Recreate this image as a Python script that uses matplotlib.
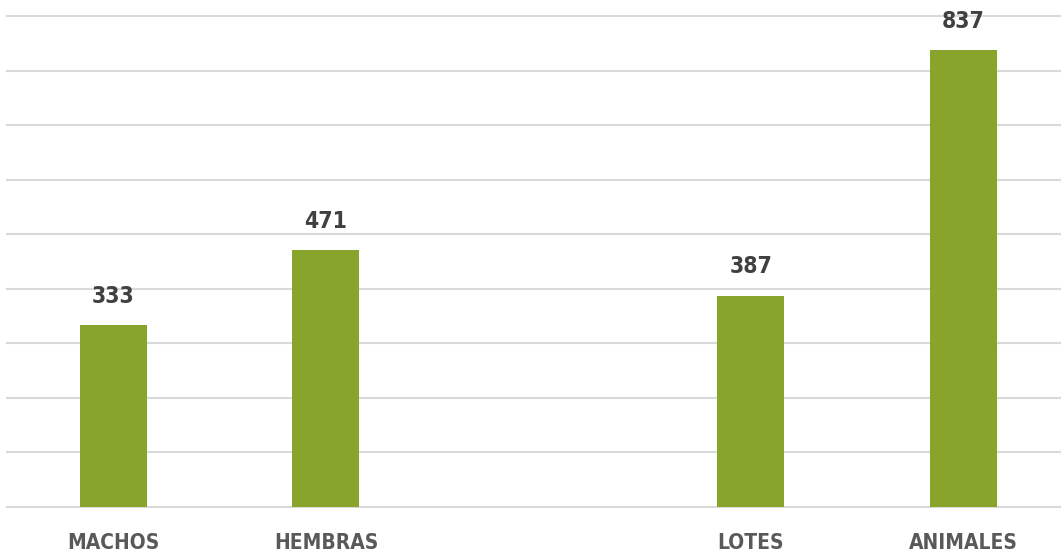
import numpy as np
import matplotlib.pyplot as plt

categories = ["MACHOS", "HEMBRAS", "", "LOTES", "ANIMALES"]
values = [333, 471, np.nan, 387, 837]
labels = ["333", "471", "", "387", "837"]

bar_color = "#88A42A"
text_color = "#595959"

fig = plt.figure(figsize=(10.61, 5.57), dpi=100)
ax = fig.add_axes([7 / 1061, 50 / 557, 1054 / 1061, 491 / 557])

x = np.arange(len(categories))
vals = np.array(values, dtype=float)
mask = ~np.isnan(vals)
ax.bar(x[mask], vals[mask], width=0.315, color=bar_color, zorder=3)

for xi, v, lab in zip(x, vals, labels):
    if lab:
        ax.text(xi, v + 32, lab, ha="center", va="bottom", fontsize=16.5,
                fontweight="bold", fontstretch="condensed", family="DejaVu Sans",
                color="#404040")

ax.set_xlim(-0.501, 4.459)
ax.set_ylim(0, 900)
ax.set_yticks(np.arange(0, 901, 100))
ax.yaxis.grid(True, color="#D9D9D9", linewidth=1.5, zorder=0)
for gl in ax.get_ygridlines():
    gl.set_clip_on(False)
ax.tick_params(left=False, labelleft=False, bottom=False)
ax.set_xticks(x[mask])
ax.set_xticklabels([c for c, m in zip(categories, mask) if m], fontsize=15,
                   fontweight="bold", fontstretch="condensed", family="DejaVu Sans",
                   color=text_color)
ax.tick_params(axis="x", pad=15)
for s in ax.spines.values():
    s.set_visible(False)

fig.savefig("out.png", dpi=100)
